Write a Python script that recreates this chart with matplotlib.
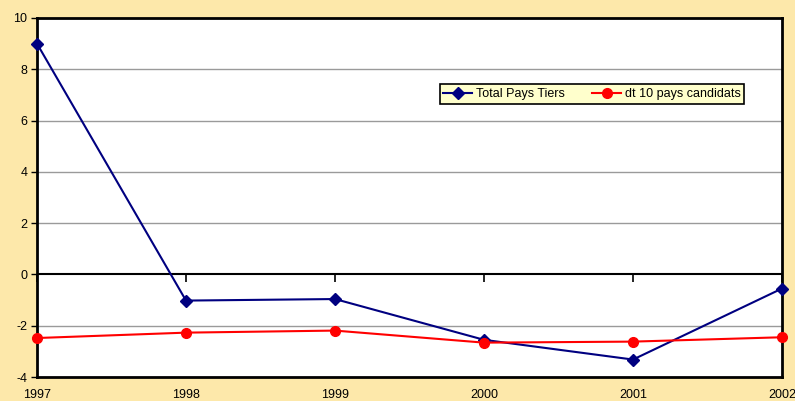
import numpy as np
import matplotlib.pyplot as plt

years = [1997, 1998, 1999, 2000, 2001, 2002]
total_tiers = [9.0, -1.02, -0.96, -2.55, -3.32, -0.55]
candidats = [-2.48, -2.27, -2.19, -2.66, -2.62, -2.45]
yticks = [-4, -2, 0, 2, 4, 6, 8, 10]

plt.rcParams['font.family'] = ['Liberation Sans', 'DejaVu Sans']
plt.rcParams['axes.unicode_minus'] = False

bg = '#FDE8AA'
fig = plt.figure(figsize=(7.95, 4.01), dpi=100, facecolor=bg)
ax = fig.add_axes([37/795, 24/401, 745/795, 359/401])
ax.set_facecolor('white')

for y in yticks:
    if y not in (0, -4, 10):
        ax.axhline(y, color='#9a9a9a', lw=1, zorder=0)
ax.axhline(0, color='black', lw=1.5, zorder=1)
ax.scatter(years, np.zeros(len(years)), marker=3, s=30, color='black',
           lw=1.2, zorder=1, clip_on=False)

ax.plot(years, total_tiers, color='#000080', lw=1.5, marker='D', ms=6.5,
        label='Total Pays Tiers', clip_on=False, zorder=3)
ax.plot(years, candidats, color='#FF0000', lw=1.5, marker='o', ms=7,
        label='dt 10 pays candidats', clip_on=False, zorder=3)

ax.set_xlim(1997, 2002)
ax.set_ylim(-4, 10)
ax.set_yticks(yticks)
ax.set_xticks(years)
ax.tick_params(axis='y', direction='out', length=4, width=1, labelsize=9, pad=3)
ax.tick_params(axis='x', length=0, labelsize=9, pad=9)
for s in ax.spines.values():
    s.set_linewidth(2)
    s.set_color('black')

leg = ax.legend(loc='center', bbox_to_anchor=(0.745, 0.788), ncol=2,
                fontsize=9, frameon=True, fancybox=False, edgecolor='black',
                facecolor='#FFFFCC', framealpha=1, handlelength=2.3,
                columnspacing=2.2, borderpad=0.3, handletextpad=0.3,
                borderaxespad=0)
leg.get_frame().set_linewidth(1.2)

plt.savefig('out.png', dpi=100, facecolor=bg)
